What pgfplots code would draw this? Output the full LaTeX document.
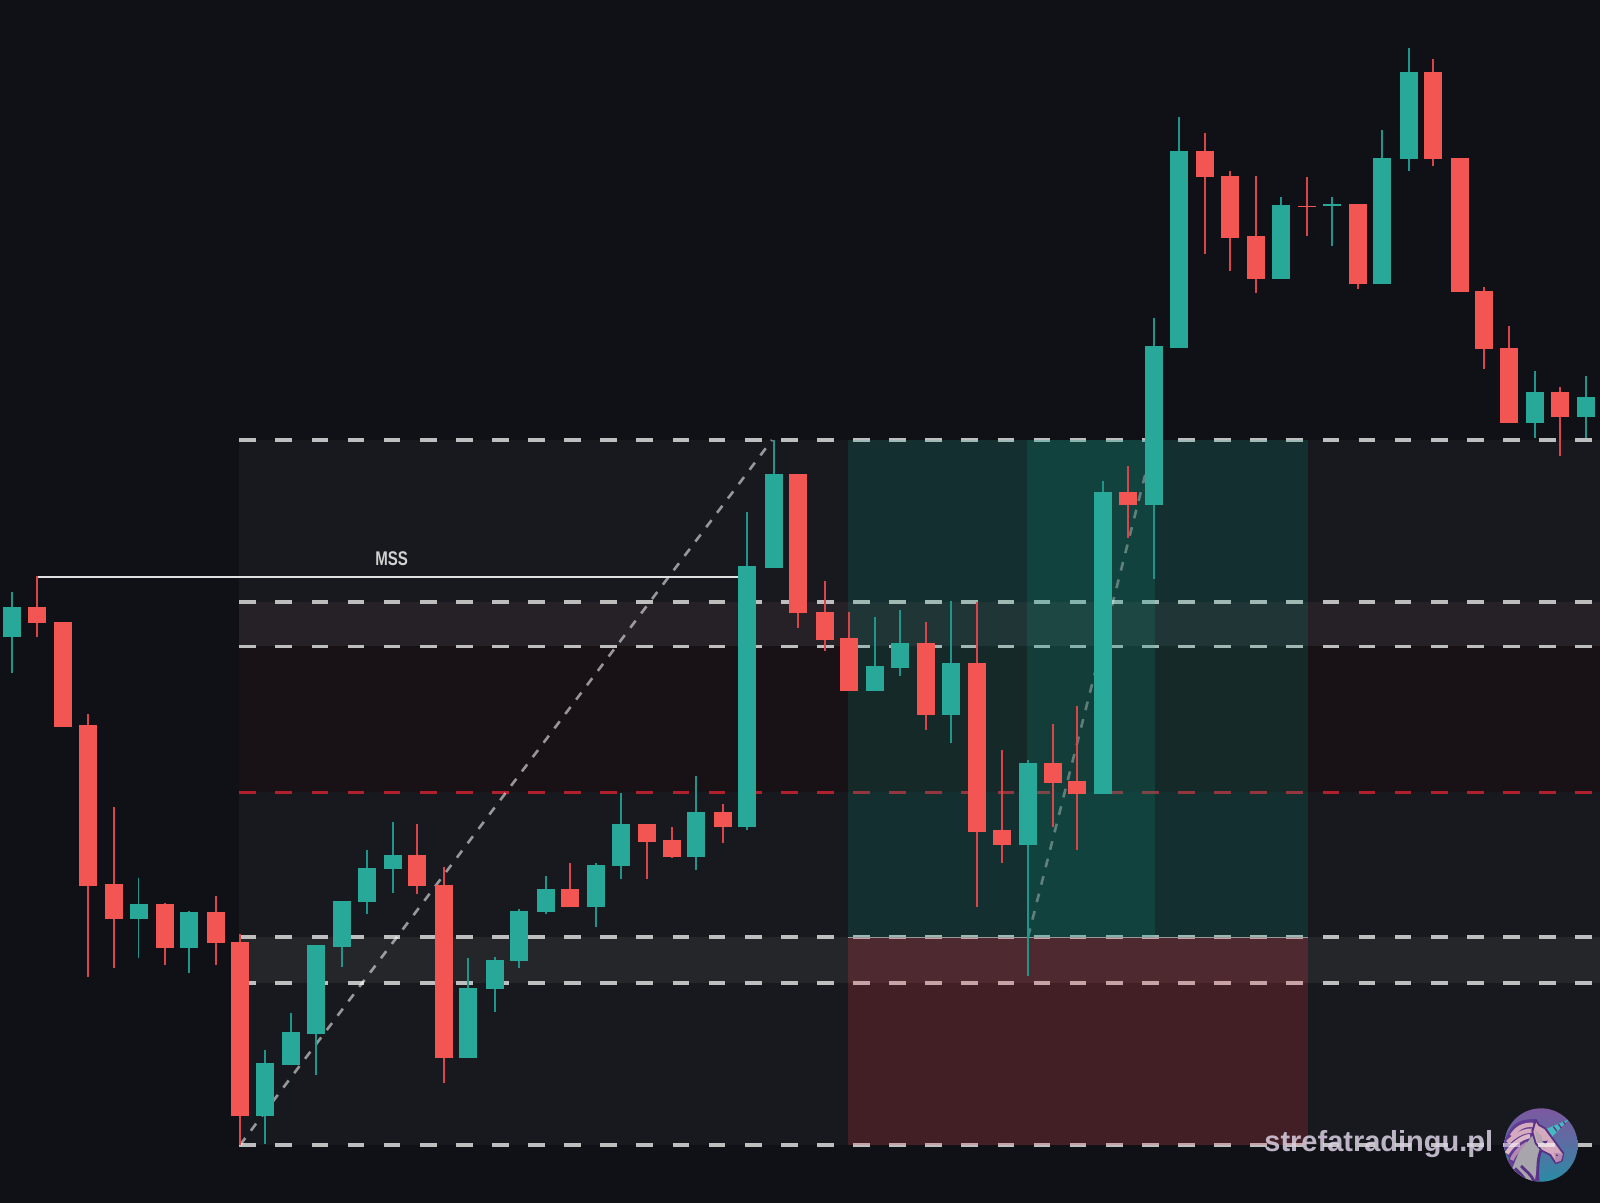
\documentclass[border=0pt]{standalone}
\usepackage{pgfplots}
\usepackage{pgfplotstable}
\usepackage{fontspec}
\setmainfont{Liberation Sans}
\pgfplotsset{compat=1.18}
\definecolor{bg}{HTML}{0F1116}
\definecolor{zone}{HTML}{17191E}
\definecolor{zred}{HTML}{181217}
\definecolor{bandA}{HTML}{252126}
\definecolor{bandB}{HTML}{25262A}
\definecolor{upc}{HTML}{27A899}
\definecolor{dnc}{HTML}{F25552}
\definecolor{upw}{HTML}{1F968B}
\definecolor{dnw}{HTML}{DB4549}
\definecolor{dash}{HTML}{BEBEBE}
\definecolor{rdash}{HTML}{B2202E}
\definecolor{tpg}{RGB}{10,160,135}
\definecolor{slr}{RGB}{242,54,69}
\definecolor{lgtop}{RGB}{125,88,160}
\definecolor{lgbot}{RGB}{42,140,165}
\definecolor{lgmane}{RGB}{98,60,148}
\definecolor{lgpink}{RGB}{214,170,190}
\definecolor{lggrey}{RGB}{168,166,172}
\definecolor{lgline}{RGB}{88,48,135}
\definecolor{lghorn}{RGB}{70,185,190}
\pgfplotstableread{
x t b h l
12.3 607.3 636.7 592.3 672.7
138.5 904.3 919 878 958.3
189.3 912.3 948.3 910.7 973.3
265 1063.3 1115.7 1050.3 1143.7
291.3 1032.3 1065 1012.7 1065
315.7 945.3 1033.7 945.3 1075
342 900.7 946.7 900.7 966.7
366.7 868 902.3 850 914
393 855 869.3 822.3 892.7
468.3 987.7 1058.3 958.3 1058.3
494.7 960 989.3 956.7 1012.3
519.3 910.7 961.3 909.3 968.3
545.7 889.3 912.3 876.3 914
596.3 865 907.3 863.3 927
621 823.7 866.3 792.7 879.3
696.3 812.3 856.7 776.3 869.7
747.3 566.3 827 512.3 830
773.7 474.3 567.7 439.7 567.7
875.3 666.3 690.7 617 690.7
900 643.3 667.7 610.3 676
951 663 715.3 600.7 743.3
1028 763.3 845 760 976
1103.3 492.3 794 480.7 794
1154.3 346.3 505 318.3 578.6
1179 151 347.7 116.7 347.7
1280.7 205.3 278.7 197 278.7
1331.7 203.7 206.3 197 246
1382.3 157.7 283.7 129.7 283.7
1408.7 72.3 159 47.7 170.7
1535 392.3 423.3 370.7 438
1586 397.3 416.7 375.7 438.3
}\upt
\pgfplotstableread{
x t b h l
36.7 607.3 623.3 576 636.7
63.3 621.7 726.7 621.7 726.7
87.7 725.3 886 714 976.7
114 884.3 919 807.3 968.3
165 904.3 948.3 902.7 965
215.7 912.3 943.3 896 965
240.3 942 1115.7 934 1145
417.3 855 886 824 894.3
443.7 884.7 1058.3 866.7 1082.7
570.3 889.3 907.3 863.3 907.3
647.3 823.7 841.7 823.7 879.3
672 840.3 856.7 827 858.3
722.7 812.3 827 804.3 843.3
798.3 474.3 613.3 474.3 628.3
824.7 612.3 640 581 651.3
849.3 638.3 690.7 612.3 690.7
926.3 643.3 715.3 622 730
977.3 663 831.7 602.3 907.3
1001.7 830.3 845 750 863
1052.7 763.3 782.7 724 826.7
1077.3 781.3 794 705.7 850
1128 492.3 505.3 466.3 538
1205.3 151 177 133 254.3
1230 175.7 237.7 170.7 270.7
1256 236.3 278.7 175.7 293.3
1307 205.7 207 177.3 236
1358 203.7 283.7 203.7 288.7
1433.3 72.3 159 59 165.7
1459.7 157.7 292 157.7 292
1484.3 290.7 349.3 287.3 369.3
1508.7 348 423.3 326.3 423.3
1559.7 392.3 416.7 387.3 456
}\dnt
\newcommand{\rect}[5]{\addplot[#5,draw=none,forget plot] coordinates {(#1,#3)(#2,#3)(#2,#4)(#1,#4)} --cycle;}
\newcommand{\hl}[4]{\addplot[#4,forget plot] coordinates {(#1,#3)(#2,#3)};}
\begin{document}
\begin{tikzpicture}
\begin{axis}[anchor=south west,at={(0pt,0pt)},scale only axis,width=800pt,height=601.5pt,
  xmin=0,xmax=1600,ymin=0,ymax=1203,y dir=reverse,hide axis]
\rect{0}{1600}{0}{1203}{fill=bg}
\rect{239.3}{1600}{439.7}{1145}{fill=zone}
\rect{239.3}{1600}{646.3}{792.3}{fill=zred}
\rect{239.3}{1600}{602}{646.3}{fill=bandA}
\rect{239.3}{1600}{937}{982.7}{fill=bandB}
% level lines
\hl{239.3}{1600}{439.7}{line width=1.8pt,color=dash,dash pattern=on 8.35pt off 9.704pt}
\hl{239.3}{1600}{602}{line width=1.8pt,color=dash,dash pattern=on 8.35pt off 9.704pt}
\hl{239.3}{1600}{646.3}{line width=1.8pt,color=dash,dash pattern=on 8.35pt off 9.704pt}
\hl{239.3}{1600}{937}{line width=1.8pt,color=dash,dash pattern=on 8.35pt off 9.704pt}
\hl{239.3}{1600}{982.7}{line width=1.8pt,color=dash,dash pattern=on 8.35pt off 9.704pt}
\hl{239.3}{1600}{1145}{line width=1.8pt,color=dash,dash pattern=on 8.35pt off 9.704pt}
\hl{239.3}{1600}{792.3}{line width=1.8pt,color=rdash,dash pattern=on 8.35pt off 9.704pt}
% position zones
\rect{848.3}{1307.7}{439.7}{937.3}{fill=tpg,fill opacity=0.17}
\rect{1027}{1154.7}{439.7}{937.3}{fill=tpg,fill opacity=0.17}
\rect{848.3}{1307.7}{937.3}{1145}{fill=slr,fill opacity=0.2}
\hl{848.3}{1307.7}{937.3}{line width=0.8pt,color=gray!80}
% diagonals
\addplot[forget plot,line width=1.3pt,color=white,opacity=0.55,dash pattern=on 4.4pt off 4.6pt] coordinates {(240,1145)(772,440)};
\addplot[forget plot,line width=1.3pt,color=white,opacity=0.33,dash pattern=on 4.4pt off 4.6pt] coordinates {(1028,937)(1154,440)};
% MSS line
\hl{36.7}{738}{576.7}{line width=1pt,color=white!88!black}
% candles: wicks then bodies
\addplot[no markers,draw=none,forget plot,error bars/.cd,y dir=plus,y explicit,error mark=none,error bar style={line width=0.95pt,color=upw,solid}] table[x=x,y=h,y error expr=\thisrow{l}-\thisrow{h}] {\upt};
\addplot[no markers,draw=none,forget plot,error bars/.cd,y dir=plus,y explicit,error mark=none,error bar style={line width=0.95pt,color=dnw,solid}] table[x=x,y=h,y error expr=\thisrow{l}-\thisrow{h}] {\dnt};
\addplot[no markers,draw=none,forget plot,error bars/.cd,y dir=plus,y explicit,error mark=none,error bar style={line width=9pt,color=upc,solid}] table[x=x,y=t,y error expr=\thisrow{b}-\thisrow{t}] {\upt};
\addplot[no markers,draw=none,forget plot,error bars/.cd,y dir=plus,y explicit,error mark=none,error bar style={line width=9pt,color=dnc,solid}] table[x=x,y=t,y error expr=\thisrow{b}-\thisrow{t}] {\dnt};
\node[anchor=center,text=white!82!black,font=\fontsize{9.9pt}{11pt}\selectfont\bfseries] at (axis cs:391.7,559) {\scalebox{0.76}[1]{MSS}};
\node[anchor=base west,inner sep=0pt,text=white!72!lgtop,text opacity=0.85,font=\fontsize{14.5pt}{16pt}\selectfont\bfseries] at (axis cs:1264,1151.7) {strefatradingu.pl};
\end{axis}
% logo (coordinates in units of 1/3 px, from the corner at px 1495,1100)
\begin{scope}[x=0.16667pt,y=-0.16667pt,xshift=747.5pt,yshift=51.5pt]
\begin{scope}
\clip (138,135) circle (110);
\shade[top color=lgtop,bottom color=lgbot,middle color=lgtop!55!lgbot] (28,25) rectangle (248,245);
\fill[lgmane!80!lgtop] (28,190) -- (60,160) -- (120,190) -- (135,245) -- (30,245) -- cycle;
% mane
\fill[lgmane] (125,58) .. controls (95,55) and (65,62) .. (48,85) .. controls (38,100) and (30,115) .. (26,135)
  .. controls (30,150) and (35,165) .. (45,180) .. controls (60,205) and (85,215) .. (110,205) -- (135,140) -- (140,85) -- cycle;
\draw[lgpink,line width=2.2pt] (115,75) .. controls (85,72) and (65,85) .. (50,108);
\draw[lgpink,line width=2.2pt] (110,92) .. controls (80,92) and (55,110) .. (38,128);
\draw[lgpink!85!white,line width=2.2pt] (105,108) .. controls (80,112) and (55,130) .. (35,160);
\draw[lgpink!70!lgmane,line width=2pt] (98,130) .. controls (80,140) and (60,155) .. (50,180);
% neck and chest
\fill[lggrey] (112,108) -- (140,150) -- (128,192) -- (118,248) -- (62,248) -- (52,205) -- (70,160) -- cycle;
\draw[lgline,line width=1.4pt] (78,198) .. controls (95,215) and (110,225) .. (118,246);
\draw[lgline,line width=1.4pt] (60,205) .. controls (75,220) and (88,232) .. (95,248);
\draw[lgline,line width=1.4pt] (138,150) .. controls (128,175) and (128,200) .. (128,240);
% horn
\fill[lghorn] (156,86) -- (222,58) -- (172,110) -- cycle;
\draw[lgline,line width=0.6pt] (175,80) -- (186,94);
\draw[lgline,line width=0.6pt] (190,72) -- (199,84);
\draw[lgline,line width=0.6pt] (205,65) -- (211,73);
% head
\fill[lgpink,draw=lgline,line width=0.9pt,line join=round] (122,60) -- (132,75) -- (150,85) -- (170,112) -- (205,160) -- (200,182) -- (182,190) -- (166,165) -- (140,152) -- (122,130) -- (112,95) -- cycle;
\fill[lggrey!75!lgpink] (118,88) -- (140,110) -- (150,148) -- (128,128) -- cycle;
\fill[lgpink!70!lgmane] (178,158) -- (204,162) -- (198,182) -- (182,188) -- cycle;
\fill[lgline] (142,124) -- (158,122) -- (152,134) -- cycle;
\fill[lgline] (186,166) circle (3);
\end{scope}
\draw[white!85!lgpink,opacity=0.55,line width=1.6pt] (28,135) -- (75,135);
\draw[white!85!lgpink,opacity=0.7,line width=1.6pt] (130,135) -- (180,135);
\end{scope}
\end{tikzpicture}
\end{document}
